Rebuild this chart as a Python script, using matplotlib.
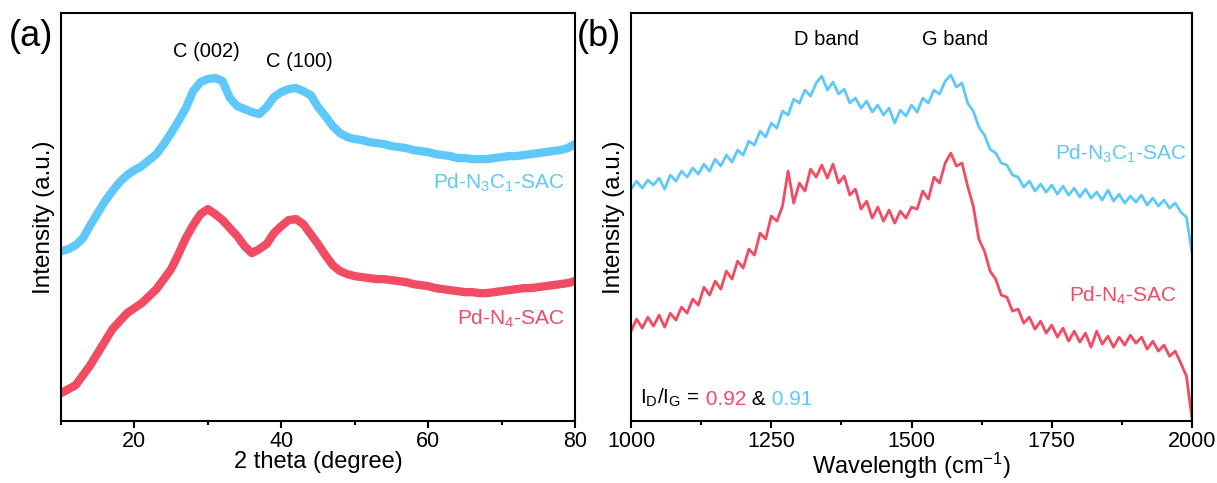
import matplotlib
matplotlib.use("Agg")
import matplotlib.pyplot as plt
from matplotlib.ticker import MultipleLocator

plt.rcParams['font.family'] = ['Liberation Sans', 'DejaVu Sans']
plt.rcParams['mathtext.default'] = 'regular'

BLUE = '#5fc8fa'
RED = '#f24b64'

# (a) XRD, 2 theta in degree
xrd_2theta = list(range(10, 81))
xrd_n3c1 = [170, 172, 176, 183, 196, 208, 220, 230, 239, 246,
            251, 255, 261, 267, 277, 288, 300, 313, 330, 339,
            342, 343, 340, 323, 315, 312, 309, 307, 314, 324,
            329, 332, 333, 330, 326, 314, 305, 295, 288, 284,
            282, 281, 279, 278, 277, 275, 274, 273, 271, 270,
            269, 267, 266, 265, 263, 263, 262, 262, 262, 263,
            264, 265, 265, 266, 267, 268, 269, 270, 271, 273,
            277]
xrd_n4 = [28, 32, 36, 46, 56, 68, 80, 92, 100, 108,
          113, 118, 125, 132, 142, 152, 167, 183, 196, 207,
          212, 207, 201, 193, 185, 175, 168, 172, 177, 188,
          195, 201, 202, 197, 187, 177, 166, 156, 150, 147,
          145, 144, 143, 142, 142, 141, 140, 139, 137, 136,
          135, 133, 132, 131, 130, 129, 129, 128, 128, 129,
          130, 131, 132, 133, 133, 134, 135, 136, 137, 138,
          140]

# (b) Raman, cm-1
raman_wn = list(range(1000, 2001, 10))
raman_n3c1 = [232, 240, 233, 241, 236, 243, 232, 246, 240, 250,
              244, 253, 247, 257, 250, 262, 255, 266, 259, 271,
              266, 280, 276, 290, 284, 298, 293, 310, 306, 322,
              318, 331, 325, 338, 345, 331, 339, 327, 332, 318,
              323, 313, 320, 309, 316, 306, 313, 298, 311, 305,
              316, 309, 323, 318, 331, 327, 340, 346, 334, 338,
              318, 310, 294, 286, 272, 268, 258, 256, 246, 244,
              234, 240, 230, 237, 229, 236, 227, 235, 226, 233,
              224, 232, 223, 229, 221, 231, 220, 227, 218, 225,
              219, 226, 216, 223, 215, 221, 213, 218, 209, 204,
              168]
raman_n4 = [90, 102, 93, 104, 95, 106, 94, 108, 101, 114,
            108, 122, 116, 134, 126, 140, 132, 150, 142, 160,
            153, 172, 166, 188, 182, 205, 200, 215, 250, 218,
            238, 230, 252, 244, 256, 243, 257, 238, 245, 226,
            232, 212, 220, 203, 214, 200, 211, 198, 210, 203,
            214, 212, 230, 222, 244, 238, 258, 268, 255, 258,
            235, 215, 182, 170, 150, 142, 126, 124, 110, 112,
            98, 104, 92, 100, 88, 96, 84, 93, 80, 90,
            79, 88, 74, 90, 77, 85, 74, 84, 76, 86,
            78, 84, 72, 80, 70, 76, 65, 70, 58, 45,
            2]

fig = plt.figure(figsize=(12.17, 4.83), dpi=100)
ax1 = fig.add_axes([0.0501, 0.128, 0.4224, 0.845])
ax2 = fig.add_axes([0.5185, 0.128, 0.461, 0.845])

ax1.plot(xrd_2theta, xrd_n3c1, color=BLUE, lw=6)
ax1.plot(xrd_2theta, xrd_n4, color=RED, lw=6)
ax1.set_xlim(10, 80)
ax1.set_ylim(0, 408)
ax1.xaxis.set_major_locator(MultipleLocator(20))
ax1.xaxis.set_minor_locator(MultipleLocator(10))
ax1.set_xticks([20, 40, 60, 80])
ax1.set_xlabel('2 theta (degree)', fontsize=17, labelpad=-1)
ax1.set_ylabel('Intensity (a.u.)', fontsize=17.5, labelpad=4)
ax1.text(29.8, 370, 'C (002)', fontsize=14.5, ha='center', va='center')
ax1.text(42.5, 360, 'C (100)', fontsize=14.5, ha='center', va='center')
ax1.text(78.6, 238, r'Pd-N$_3$C$_1$-SAC', color=BLUE, fontsize=15, ha='right', va='center')
ax1.text(78.6, 102, r'Pd-N$_4$-SAC', color=RED, fontsize=15, ha='right', va='center')
fig.text(0.007, 0.905, '(a)', fontsize=26)

ax2.plot(raman_wn, raman_n3c1, color=BLUE, lw=2)
ax2.plot(raman_wn, raman_n4, color=RED, lw=2)
ax2.set_xlim(1000, 2000)
ax2.set_ylim(0, 408)
ax2.xaxis.set_major_locator(MultipleLocator(250))
ax2.xaxis.set_minor_locator(MultipleLocator(125))
ax2.set_xlabel('Wavelength (cm$^{-1}$)', fontsize=17, labelpad=-1)
ax2.set_ylabel('Intensity (a.u.)', fontsize=17.5, labelpad=4)
ax2.text(1349, 382, 'D band', fontsize=14.5, ha='center', va='center')
ax2.text(1578, 382, 'G band', fontsize=14.5, ha='center', va='center')
ax2.text(1989, 267, r'Pd-N$_3$C$_1$-SAC', color=BLUE, fontsize=15, ha='right', va='center')
ax2.text(1972, 125, r'Pd-N$_4$-SAC', color=RED, fontsize=15, ha='right', va='center')
t1 = ax2.text(1016, 23, r'I$_D$/I$_G$ =', fontsize=15, ha='left', va='center')
t2 = ax2.annotate(' 0.92', xy=(1, 0), xycoords=t1, color=RED, fontsize=15, va='bottom')
t3 = ax2.annotate(' &', xy=(1, 0), xycoords=t2, color='black', fontsize=15, va='bottom')
ax2.annotate(' 0.91', xy=(1, 0), xycoords=t3, color=BLUE, fontsize=15, va='bottom')
fig.text(0.474, 0.905, '(b)', fontsize=26)

for ax in (ax1, ax2):
    ax.set_yticks([])
    for sp in ax.spines.values():
        sp.set_linewidth(1.5)
    ax.tick_params(axis='x', which='major', direction='out', length=5, width=1.5,
                   labelsize=15.5, pad=2)
    ax.tick_params(axis='x', which='minor', direction='out', length=3, width=1.5)

fig.savefig('out.png', dpi=100)
